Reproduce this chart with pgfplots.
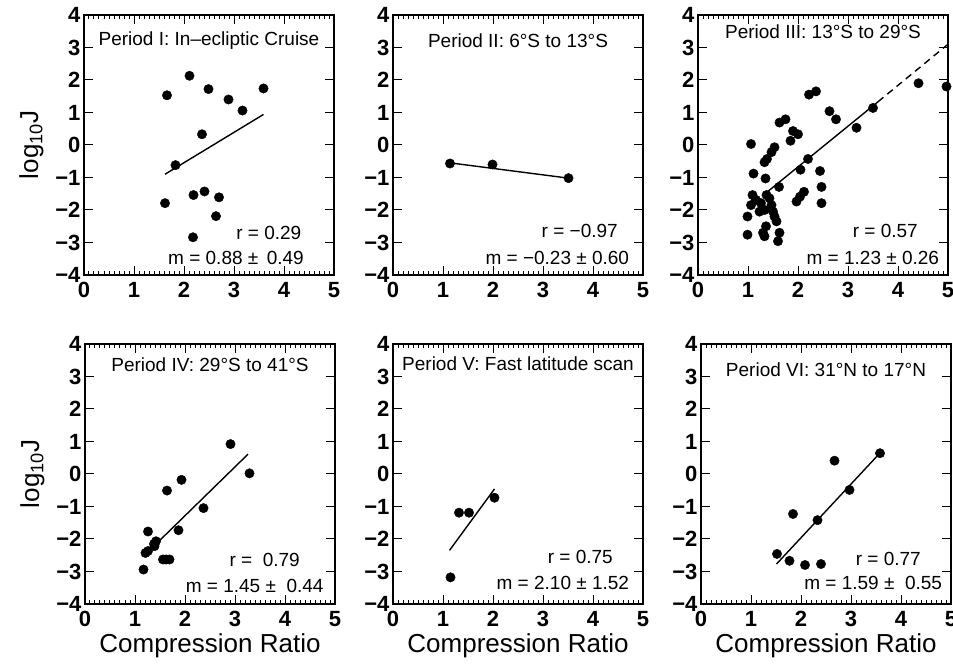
\documentclass[border=0pt]{standalone}
\usepackage{pgfplots}
\pgfplotsset{compat=1.18}
\usepackage{fontspec}
\setmainfont{Liberation Sans}

% common look of the six panels
\pgfplotsset{
  panel/.style={
    scale only axis, width=250pt, height=260pt,
    xmin=0, xmax=5, ymin=-4, ymax=4,
    xtick={0,1,2,3,4,5}, ytick={-4,-3,-2,-1,0,1,2,3,4},
    xticklabels={0,1,2,3,4,5},
    yticklabels={−4,−3,−2,−1,0,1,2,3,4},
    minor x tick num=9,
    tick align=inside,
    major tick length=9pt, minor tick length=4pt,
    axis line style={line width=1.3pt},
    every tick/.style={black, line width=1pt},
    tick label style={font=\fontsize{22}{24}\selectfont\bfseries},
    xticklabel style={yshift=-4pt},
    every axis x label/.style={at={(axis description cs:0.5,-0.185)}, anchor=base,
      font=\fontsize{26}{28}\selectfont},
    every axis y label/.style={at={(axis description cs:-0.21,0.5)}, rotate=90, anchor=center,
      font=\fontsize{26}{28}\selectfont},
  },
  pts/.style={only marks, mark=*, mark size=4.7pt, black},
  fit/.style={black, line width=1.4pt, no marks},
}
\tikzset{
  txt/.style={font=\fontsize{19}{21}\selectfont, inner sep=0pt},
  ttl/.style={font=\fontsize{19}{21}\selectfont, inner sep=0pt},
}

\begin{document}
\begin{tikzpicture}

% Period I
\begin{axis}[panel, at={(84pt,394pt)}, anchor=south west, ylabel={log\textsubscript{10}J}]
\addplot[pts] coordinates {
(1.66,1.53) (2.11,2.13) (2.49,1.72) (2.89,1.40) (3.17,1.06) (3.59,1.74)
(2.36,0.33) (1.83,-0.62) (1.62,-1.79) (2.19,-1.54) (2.41,-1.43) (2.70,-1.61)
(2.64,-2.19) (2.18,-2.84)
};
\addplot[fit] coordinates {(1.62,-0.90) (3.59,0.94)};
\node[ttl] at (axis description cs:0.5,0.90) {Period I: In–ecliptic Cruise};
\node[txt, anchor=east] at (axis description cs:0.87,0.16) {r = 0.29};
\node[txt, anchor=east] at (axis description cs:0.88,0.065) {m = 0.88 ±\, 0.49};
\end{axis}

% Period II
\begin{axis}[panel, at={(393pt,394pt)}, anchor=south west]
\addplot[pts] coordinates {(1.14,-0.57) (1.99,-0.60) (3.51,-1.02)};
\addplot[fit] coordinates {(1.14,-0.55) (3.51,-1.02)};
\node[ttl] at (axis description cs:0.5,0.90) {Period II: 6°S to 13°S};
\node[txt, anchor=east] at (axis description cs:0.90,0.17) {r = −0.97};
\node[txt, anchor=east] at (axis description cs:0.945,0.065) {m = −0.23 ± 0.60};
\end{axis}

% Period III
\begin{axis}[panel, at={(698pt,394pt)}, anchor=south west]
\addplot[pts] coordinates {
(2.22,1.55) (2.36,1.65) (2.63,1.04) (2.76,0.79) (3.17,0.53) (1.63,0.69)
(1.75,0.79) (1.90,0.43) (2.00,0.33) (1.85,0.13) (1.06,0.03) (1.53,-0.07)
(1.47,-0.22) (1.38,-0.43) (1.33,-0.53) (2.20,-0.43) (2.05,-0.76) (1.11,-0.88)
(2.44,-0.80) (1.35,-1.03) (1.62,-1.29) (2.47,-1.29) (2.12,-1.44) (2.04,-1.59)
(1.97,-1.74) (2.47,-1.79) (1.09,-1.54) (1.16,-1.69) (1.06,-1.85) (1.26,-1.79)
(1.37,-1.54) (1.43,-1.64) (1.47,-1.85) (1.33,-2.00) (1.23,-2.05) (1.50,-2.05)
(1.53,-2.20) (0.99,-2.20) (1.57,-2.35) (1.36,-2.50) (0.99,-2.76) (1.30,-2.70)
(1.33,-2.81) (1.63,-2.70) (1.60,-2.96) (3.50,1.14) (4.41,1.90) (4.97,1.80)
};
\addplot[fit] coordinates {(1.30,-1.55) (3.60,1.33)};
\addplot[fit, dashed, dash pattern=on 7pt off 5pt] coordinates {(3.60,1.33) (5.00,3.10)};
\node[ttl] at (axis description cs:0.5,0.935) {Period III: 13°S to 29°S};
\node[txt, anchor=east] at (axis description cs:0.88,0.17) {r = 0.57};
\node[txt, anchor=east] at (axis description cs:0.965,0.065) {m = 1.23 ± 0.26};
\end{axis}

% Period IV
\begin{axis}[panel, at={(85pt,65pt)}, anchor=south west,
  ylabel={log\textsubscript{10}J}, xlabel={Compression Ratio}]
\addplot[pts] coordinates {
(1.17,-2.94) (1.21,-2.43) (1.26,-2.37) (1.26,-1.77) (1.38,-2.15) (1.42,-2.07)
(1.39,-2.22) (1.56,-2.63) (1.62,-2.63) (1.69,-2.63) (1.64,-0.51) (1.87,-1.73)
(1.93,-0.18) (2.37,-1.05) (2.91,0.92) (3.29,0.02)
};
\addplot[fit] coordinates {(1.27,-2.38) (3.26,0.61)};
\node[ttl] at (axis description cs:0.5,0.92) {Period IV: 29°S to 41°S};
\node[txt, anchor=east] at (axis description cs:0.86,0.17) {r = \ 0.79};
\node[txt, anchor=east] at (axis description cs:0.955,0.07) {m = 1.45 ± \ 0.44};
\end{axis}

% Period V
\begin{axis}[panel, at={(393pt,65pt)}, anchor=south west, xlabel={Compression Ratio}]
\addplot[pts] coordinates {(1.15,-3.18) (1.32,-1.19) (1.52,-1.19) (2.03,-0.73)};
\addplot[fit] coordinates {(1.13,-2.35) (2.03,-0.46)};
\node[ttl] at (axis description cs:0.5,0.925) {Period V: Fast latitude scan};
\node[txt, anchor=east] at (axis description cs:0.88,0.18) {r = 0.75};
\node[txt, anchor=east] at (axis description cs:0.945,0.08) {m = 2.10 ± 1.52};
\end{axis}

% Period VI
\begin{axis}[panel, at={(701pt,65pt)}, anchor=south west, xlabel={Compression Ratio}]
\addplot[pts] coordinates {
(1.52,-2.46) (1.77,-2.67) (1.84,-1.23) (2.08,-2.80) (2.33,-1.42) (2.40,-2.77)
(2.67,0.41) (2.97,-0.49) (3.58,0.64)
};
\addplot[fit] coordinates {(1.51,-2.77) (3.60,0.68)};
\node[ttl] at (axis description cs:0.5,0.90) {Period VI: 31°N to 17°N};
\node[txt, anchor=east] at (axis description cs:0.88,0.175) {r = 0.77};
\node[txt, anchor=east] at (axis description cs:0.965,0.08) {m = 1.59 ± \ 0.55};
\end{axis}

\pgfresetboundingbox
\path[use as bounding box] (0,0) rectangle (953pt,669pt);
\end{tikzpicture}
\end{document}
